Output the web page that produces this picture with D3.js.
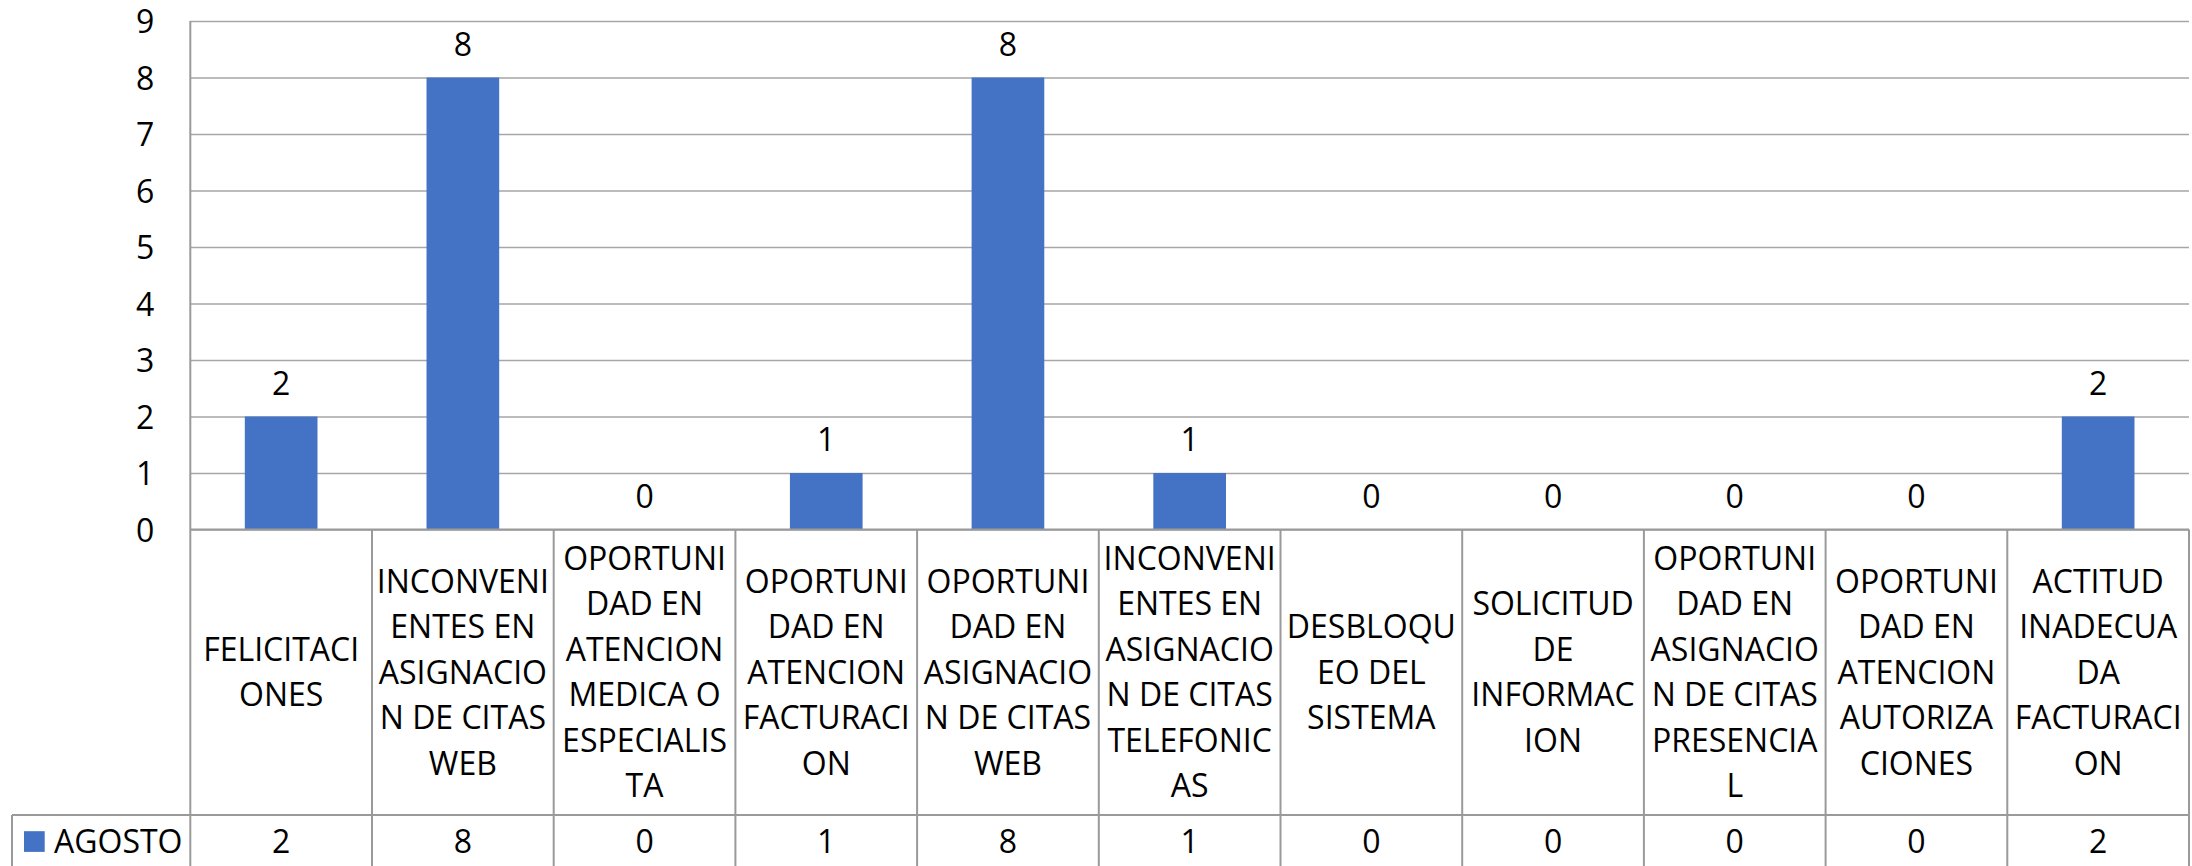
<!DOCTYPE html>
<html>
<head>
<meta charset="utf-8">
<script src="https://cdn.jsdelivr.net/npm/d3@7"></script>
<style>
  html, body { margin: 0; padding: 0; background: #ffffff; }
  svg { display: block; }
  text { font-family: "Open Sans", "Noto Sans", sans-serif; fill: #000; }
</style>
</head>
<body>
<svg id="chart" width="2192" height="866"></svg>
<script>
// Category names (one column each) and their wrapped label lines as shown in the data table
const categories = [
  "FELICITACIONES",
  "INCONVENIENTES EN ASIGNACION DE CITAS WEB",
  "OPORTUNIDAD EN ATENCION MEDICA O ESPECIALISTA",
  "OPORTUNIDAD EN ATENCION FACTURACION",
  "OPORTUNIDAD EN ASIGNACION DE CITAS WEB",
  "INCONVENIENTES EN ASIGNACION DE CITAS TELEFONICAS",
  "DESBLOQUEO DEL SISTEMA",
  "SOLICITUD DE INFORMACION",
  "OPORTUNIDAD EN ASIGNACION DE CITAS PRESENCIAL",
  "OPORTUNIDAD EN ATENCION AUTORIZACIONES",
  "ACTITUD INADECUADA FACTURACION"
];
const categoryLines = [
  ["FELICITACI", "ONES"],
  ["INCONVENI", "ENTES EN", "ASIGNACIO", "N DE CITAS", "WEB"],
  ["OPORTUNI", "DAD EN", "ATENCION", "MEDICA O", "ESPECIALIS", "TA"],
  ["OPORTUNI", "DAD EN", "ATENCION", "FACTURACI", "ON"],
  ["OPORTUNI", "DAD EN", "ASIGNACIO", "N DE CITAS", "WEB"],
  ["INCONVENI", "ENTES EN", "ASIGNACIO", "N DE CITAS", "TELEFONIC", "AS"],
  ["DESBLOQU", "EO DEL", "SISTEMA"],
  ["SOLICITUD", "DE", "INFORMAC", "ION"],
  ["OPORTUNI", "DAD EN", "ASIGNACIO", "N DE CITAS", "PRESENCIA", "L"],
  ["OPORTUNI", "DAD EN", "ATENCION", "AUTORIZA", "CIONES"],
  ["ACTITUD", "INADECUA", "DA", "FACTURACI", "ON"]
];
const seriesName = "AGOSTO";
const agostoValues = [2, 8, 0, 1, 8, 1, 0, 0, 0, 0, 2];
const yTicks = [0, 1, 2, 3, 4, 5, 6, 7, 8, 9];

// Layout
const plotLeft = 190.3, plotRight = 2189;
const plotTop = 21, plotBottom = 529.5;
const catRowBottom = 815, legendRowBottom = 868;
const tableLeft = 12;
const fontSize = 32;
const lineHeight = 45.5;
const capHalf = fontSize * 0.357;
const barColor = "#4472C4";
const gridColor = "#a6a6a6";
const lineColor = "#9a9a9a";

const svg = d3.select("#chart");

const x = d3.scaleBand().domain(categories).range([plotLeft, plotRight]).padding(0);
const y = d3.scaleLinear().domain([0, 9]).range([plotBottom, plotTop]);
const bw = x.bandwidth();

// Horizontal gridlines and tick labels
const yAxis = d3.axisLeft(y)
  .tickValues(yTicks)
  .tickSize(-(plotRight - plotLeft))
  .tickPadding(36)
  .tickFormat(d3.format("d"));

const gAxis = svg.append("g")
  .attr("transform", `translate(${plotLeft},0)`)
  .call(yAxis);
gAxis.select(".domain").remove();
gAxis.selectAll(".tick line")
  .attr("stroke", gridColor)
  .attr("stroke-width", 1.4);
gAxis.selectAll(".tick text")
  .attr("font-size", fontSize)
  .attr("font-family", "'Open Sans', sans-serif")
  .attr("fill", "#000")
  .attr("dy", "0.36em");

// Bars
svg.append("g").selectAll("rect")
  .data(agostoValues)
  .join("rect")
  .attr("x", (d, i) => x(categories[i]) + bw * 0.3)
  .attr("width", bw * 0.4)
  .attr("y", d => y(d))
  .attr("height", d => y(0) - y(d))
  .attr("fill", barColor);

// Value labels above bars
svg.append("g").selectAll("text")
  .data(agostoValues)
  .join("text")
  .attr("x", (d, i) => x(categories[i]) + bw / 2)
  .attr("y", d => y(d) - 22)
  .attr("text-anchor", "middle")
  .attr("font-size", fontSize)
  .text(d => d);

// Data table lines
const table = svg.append("g")
  .attr("stroke", lineColor)
  .attr("stroke-width", 2)
  .attr("fill", "none");

// Vertical axis line (continues as the table's left border)
table.append("line")
  .attr("x1", plotLeft).attr("x2", plotLeft)
  .attr("y1", plotTop).attr("y2", legendRowBottom);

// Column separators
categories.forEach((c, i) => {
  const xr = x(c) + bw;
  table.append("line")
    .attr("x1", xr).attr("x2", xr)
    .attr("y1", plotBottom).attr("y2", legendRowBottom);
});

// Baseline (category axis)
table.append("line")
  .attr("x1", plotLeft).attr("x2", plotRight)
  .attr("y1", plotBottom).attr("y2", plotBottom);

// Top of legend row
table.append("line")
  .attr("x1", tableLeft).attr("x2", plotRight)
  .attr("y1", catRowBottom).attr("y2", catRowBottom);

// Left border of legend row
table.append("line")
  .attr("x1", tableLeft).attr("x2", tableLeft)
  .attr("y1", catRowBottom).attr("y2", legendRowBottom);

// Category labels, wrapped and vertically centred in their cells
const catCenter = (plotBottom + catRowBottom) / 2;
const catG = svg.append("g");
categoryLines.forEach((lines, i) => {
  const cx = x(categories[i]) + bw / 2;
  const n = lines.length;
  const t = catG.append("text")
    .attr("text-anchor", "middle")
    .attr("font-size", fontSize);
  lines.forEach((ln, j) => {
    t.append("tspan")
      .attr("x", cx)
      .attr("y", catCenter + (j - (n - 1) / 2) * lineHeight + capHalf)
      .text(ln);
  });
});

// Legend row: key, series name and values
const legendCenter = 841.5;
svg.append("rect")
  .attr("x", 24).attr("y", legendCenter - 10.3)
  .attr("width", 20.7).attr("height", 20.7)
  .attr("fill", barColor);
svg.append("text")
  .attr("x", 54)
  .attr("y", legendCenter + capHalf)
  .attr("font-size", fontSize)
  .text(seriesName);

svg.append("g").selectAll("text")
  .data(agostoValues)
  .join("text")
  .attr("x", (d, i) => x(categories[i]) + bw / 2)
  .attr("y", legendCenter + capHalf)
  .attr("text-anchor", "middle")
  .attr("font-size", fontSize)
  .text(d => d);
</script>
</body>
</html>
